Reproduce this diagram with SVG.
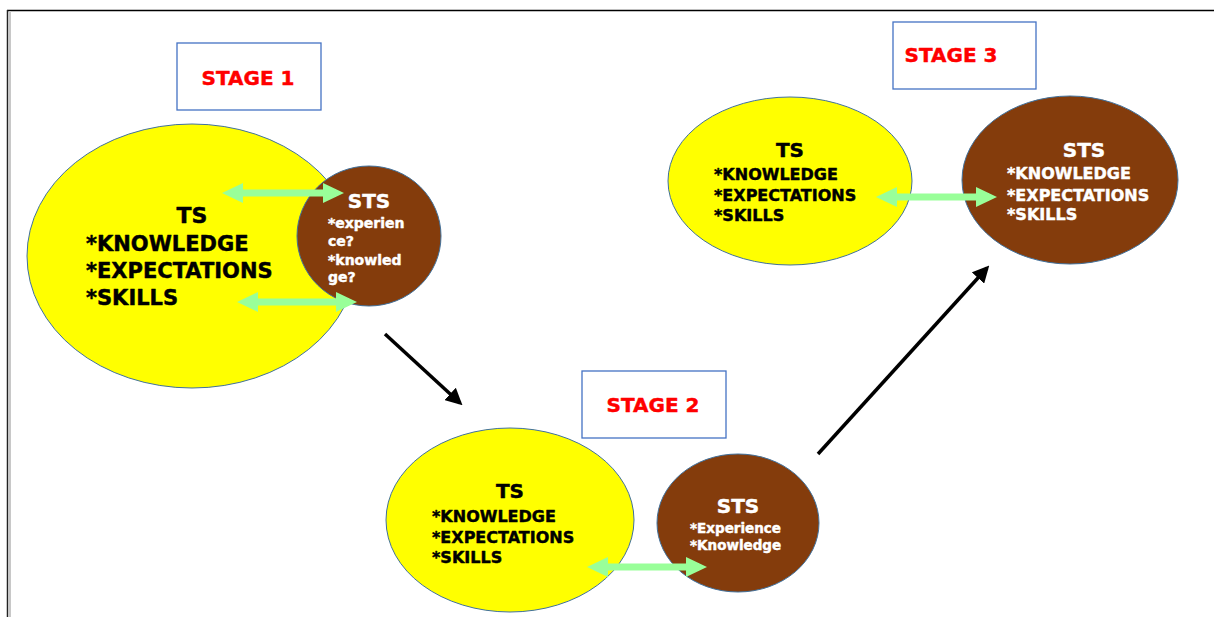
<svg xmlns="http://www.w3.org/2000/svg" width="1214" height="617" viewBox="0 0 1214 617">
  <style>
    text { font-family: "DejaVu Sans", Verdana, sans-serif; font-weight: bold; stroke-width: 0.45; stroke-linejoin: round; }
    .ts { fill: #FFFF00; stroke: #41719C; stroke-width: 1; }
    .sts { fill: #843C0C; stroke: #41719C; stroke-width: 1; }
    .stagebox { fill: #FFFFFF; stroke: #4472C4; stroke-width: 1.3; }
    .stagetxt { fill: #FF0000; stroke: #FF0000; font-size: 20px; text-anchor: middle; }
    .dark { fill: #000000; stroke: #000000; }
    .light { fill: #FFFFFF; stroke: #FFFFFF; }
    .link { fill: #99FF99; }
    .flow { stroke: #000000; stroke-width: 3.5; fill: none; marker-end: url(#head); }
  </style>
  <defs>
    <marker id="head" viewBox="0 0 10 10" refX="8" refY="5" markerWidth="4.8" markerHeight="4.8" orient="auto" markerUnits="strokeWidth">
      <path d="M0,0 L10,5 L0,10 z" fill="#000000"/>
    </marker>
  </defs>

  <rect width="1214" height="617" fill="#FFFFFF"/>

  <!-- page frame -->
  <g id="frame">
    <line x1="7" y1="10.5" x2="1214" y2="10.5" stroke="#000000" stroke-width="1.5"/>
    <line x1="7.5" y1="10" x2="7.5" y2="617" stroke="#222222" stroke-width="1.5"/>
    <line x1="10" y1="11" x2="10" y2="617" stroke="#C8C8C8" stroke-width="2"/>
  </g>

  <!-- stage titles -->
  <g id="stage1-label">
    <rect class="stagebox" x="177" y="43" width="144" height="67"/>
    <text class="stagetxt" x="248" y="85">STAGE 1</text>
  </g>
  <g id="stage2-label">
    <rect class="stagebox" x="582" y="371" width="144" height="67"/>
    <text class="stagetxt" x="653" y="412">STAGE 2</text>
  </g>
  <g id="stage3-label">
    <rect class="stagebox" x="893" y="22" width="143" height="67"/>
    <text class="stagetxt" x="951" y="62">STAGE 3</text>
  </g>

  <!-- stage 1 -->
  <g id="stage1-ts">
    <ellipse class="ts" cx="192" cy="256" rx="165" ry="132"/>
    <text class="dark" x="192" y="223" font-size="22" text-anchor="middle">TS</text>
    <text class="dark" x="86" y="251" font-size="21">*KNOWLEDGE</text>
    <text class="dark" x="86" y="278" font-size="21">*EXPECTATIONS</text>
    <text class="dark" x="86" y="305" font-size="21">*SKILLS</text>
  </g>
  <g id="stage1-sts">
    <ellipse class="sts" cx="369" cy="236" rx="72" ry="70"/>
    <text class="light" x="369" y="208" font-size="20" text-anchor="middle">STS</text>
    <text class="light" x="328" y="228" font-size="14">*experien</text>
    <text class="light" x="328" y="246" font-size="14">ce?</text>
    <text class="light" x="328" y="265" font-size="14">*knowled</text>
    <text class="light" x="328" y="282" font-size="14">ge?</text>
  </g>

  <!-- stage 2 -->
  <g id="stage2-ts">
    <ellipse class="ts" cx="510" cy="520" rx="124" ry="92"/>
    <text class="dark" x="510" y="498" font-size="20" text-anchor="middle">TS</text>
    <text class="dark" x="432" y="522" font-size="16">*KNOWLEDGE</text>
    <text class="dark" x="432" y="543" font-size="16">*EXPECTATIONS</text>
    <text class="dark" x="432" y="563" font-size="16">*SKILLS</text>
  </g>
  <g id="stage2-sts">
    <ellipse class="sts" cx="738" cy="523" rx="81" ry="69"/>
    <text class="light" x="738" y="513" font-size="20" text-anchor="middle">STS</text>
    <text class="light" x="690" y="533" font-size="13.5">*Experience</text>
    <text class="light" x="690" y="550" font-size="13.5">*Knowledge</text>
  </g>

  <!-- stage 3 -->
  <g id="stage3-ts">
    <ellipse class="ts" cx="790" cy="181" rx="122" ry="84"/>
    <text class="dark" x="790" y="157" font-size="20" text-anchor="middle">TS</text>
    <text class="dark" x="714" y="180" font-size="16">*KNOWLEDGE</text>
    <text class="dark" x="714" y="201" font-size="16">*EXPECTATIONS</text>
    <text class="dark" x="714" y="221" font-size="16">*SKILLS</text>
  </g>
  <g id="stage3-sts">
    <ellipse class="sts" cx="1070" cy="180" rx="108" ry="84"/>
    <text class="light" x="1084" y="157" font-size="20" text-anchor="middle">STS</text>
    <text class="light" x="1007" y="179" font-size="16">*KNOWLEDGE</text>
    <text class="light" x="1007" y="201" font-size="16">*EXPECTATIONS</text>
    <text class="light" x="1007" y="220" font-size="16">*SKILLS</text>
  </g>

  <!-- connectors -->
  <g id="connectors">
    <!-- two-way exchange arrows -->
    <polygon class="link" points="222,193 243,183 243,189.5 323,189.5 323,183 344,193 323,203 323,196.5 243,196.5 243,203"/>
    <polygon class="link" points="237,302 258,292 258,298.5 336,298.5 336,292 357,302 336,312 336,305.5 258,305.5 258,312"/>
    <polygon class="link" points="587,567 608,557 608,563.5 686,563.5 686,557 707,567 686,577 686,570.5 608,570.5 608,577"/>
    <polygon class="link" points="876,197 897,187 897,193.5 976,193.5 976,187 997,197 976,207 976,200.5 897,200.5 897,207"/>
    <!-- progression between stages -->
    <line class="flow" x1="385" y1="334" x2="460" y2="403"/>
    <line class="flow" x1="818" y1="454" x2="987" y2="268"/>
  </g>
</svg>
